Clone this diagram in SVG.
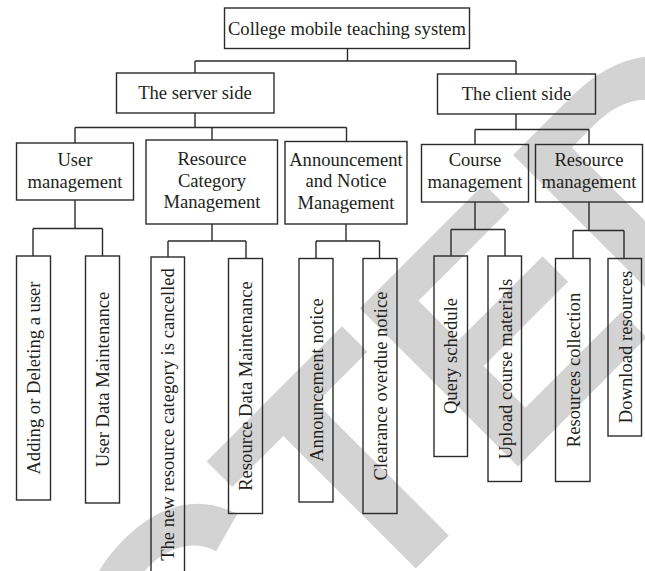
<svg xmlns="http://www.w3.org/2000/svg" width="645" height="571" viewBox="0 0 645 571">
<style>
.box{fill:none;stroke:#2b2b2b;stroke-width:1.4}
.con{fill:none;stroke:#2b2b2b;stroke-width:1.4}
.lbl{font-family:"Liberation Serif","Times New Roman",serif;font-size:18.6px;fill:#231f20;text-anchor:middle}
.wm{font-family:"Liberation Sans",Arial,sans-serif;font-weight:bold;font-size:325px;fill:#d3d3d3}
</style>
<rect width="645" height="571" fill="#fff"/>
<text class="wm" transform="rotate(-45)" x="-1538" y="696">RETRACTED</text>
<g id="connectors">
<path class="con" d="M347.5 48.5V61M195 61H516M195 61V73M516 61V74"/>
<path class="con" d="M195 113V127.5M75 127.5H346.5M75 127.5V143M212 127.5V140M346.5 127.5V141.5"/>
<path class="con" d="M516 114V129.5M475 129.5H589M475 129.5V144.5M589 129.5V144.5"/>
<path class="con" d="M75 200V228.5M33 228.5H102.5M33 228.5V256M102.5 228.5V256"/>
<path class="con" d="M212 224V241M168 241H246M168 241V257M246 241V258.5"/>
<path class="con" d="M346 224V241M316 241H379.5M316 241V258.5M379.5 241V258.5"/>
<path class="con" d="M475 202V229.5M451 229.5H505M451 229.5V256M505 229.5V256"/>
<path class="con" d="M589 202V230.5M573 230.5H624M573 230.5V258.5M624 230.5V258.5"/>
</g>
<g id="n-root"><rect class="box" x="224.5" y="8" width="245" height="40.5"/><text class="lbl" x="347" y="34.5">College mobile teaching system</text></g>
<g id="n-server"><rect class="box" x="116.5" y="73" width="157.5" height="40"/><text class="lbl" x="195" y="98.5">The server side</text></g>
<g id="n-client"><rect class="box" x="437.5" y="74" width="158" height="40"/><text class="lbl" x="516.5" y="99.5">The client side</text></g>
<g id="n-user"><rect class="box" x="16.5" y="143" width="117" height="57"/><text class="lbl" x="75" y="166">User</text><text class="lbl" x="75" y="188">management</text></g>
<g id="n-rescat"><rect class="box" x="146" y="140" width="131.5" height="84"/><text class="lbl" x="212" y="165">Resource</text><text class="lbl" x="212" y="186.7">Category</text><text class="lbl" x="212" y="208.4">Management</text></g>
<g id="n-ann"><rect class="box" x="285" y="141.5" width="122" height="82.5"/><text class="lbl" x="346" y="165.5">Announcement</text><text class="lbl" x="346" y="187.2">and Notice</text><text class="lbl" x="346" y="208.9">Management</text></g>
<g id="n-course"><rect class="box" x="421.5" y="144.5" width="107" height="57.5"/><text class="lbl" x="475" y="166">Course</text><text class="lbl" x="475" y="188">management</text></g>
<g id="n-resmgmt"><rect class="box" x="535.5" y="144.5" width="107" height="57.5"/><text class="lbl" x="589" y="166">Resource</text><text class="lbl" x="589" y="188">management</text></g>
<g id="l-add"><rect class="box" x="16.5" y="256" width="34" height="244"/><text class="lbl" transform="translate(33.5 378) rotate(-90)" y="6.5">Adding or Deleting a user</text></g>
<g id="l-userdata"><rect class="box" x="85.5" y="256" width="34" height="247"/><text class="lbl" transform="translate(102.5 379.5) rotate(-90)" y="6.5">User Data Maintenance</text></g>
<g id="l-newres"><rect class="box" x="151" y="257" width="33.5" height="320"/><text class="lbl" transform="translate(167.5 414.5) rotate(-90)" y="6.5">The new resource category is cancelled</text></g>
<g id="l-resdata"><rect class="box" x="228.5" y="258.5" width="34" height="255"/><text class="lbl" transform="translate(245.5 386) rotate(-90)" y="6.5">Resource Data Maintenance</text></g>
<g id="l-annnotice"><rect class="box" x="299" y="258.5" width="34" height="243.5"/><text class="lbl" transform="translate(316 380) rotate(-90)" y="6.5">Announcement notice</text></g>
<g id="l-clear"><rect class="box" x="363" y="258.5" width="34" height="255"/><text class="lbl" transform="translate(380 386) rotate(-90)" y="6.5">Clearance overdue notice</text></g>
<g id="l-query"><rect class="box" x="434" y="256" width="33.5" height="200.5"/><text class="lbl" transform="translate(450.5 356) rotate(-90)" y="6.5">Query schedule</text></g>
<g id="l-upload"><rect class="box" x="488" y="256" width="33.5" height="225.5"/><text class="lbl" transform="translate(505 369) rotate(-90)" y="6.5">Upload course materials</text></g>
<g id="l-rescoll"><rect class="box" x="555.5" y="258.5" width="34.5" height="223"/><text class="lbl" transform="translate(573 370) rotate(-90)" y="6.5">Resources collection</text></g>
<g id="l-download"><rect class="box" x="608" y="258.5" width="33.5" height="177.5"/><text class="lbl" transform="translate(625 347) rotate(-90)" y="6.5">Download resources</text></g>
</svg>
